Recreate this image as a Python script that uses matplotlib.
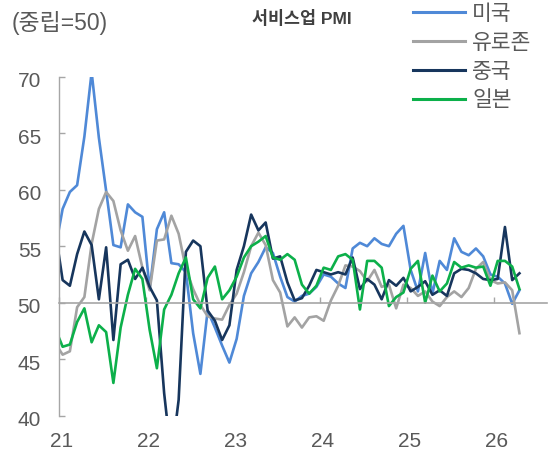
import numpy as np
import matplotlib
matplotlib.use('Agg')
import matplotlib.pyplot as plt
from matplotlib.transforms import ScaledTranslation

plt.rcParams['font.family'] = ['Liberation Sans', 'Noto Sans CJK KR']

series_names = ['미국', '유로존', '중국', '일본']
year_labels = ['21', '22', '23', '24', '25', '26']
year_ticks = [0, 12, 24, 36, 48, 60]          # month offsets from Jan 2021
y_ticks = [40, 45, 50, 55, 60, 65, 70]

# Monthly values, Dec 2020 .. Apr 2026
us = [54.8,
      58.3, 59.8, 60.4, 64.7, 70.4, 64.6, 59.9, 55.1, 54.9, 58.7, 58.0, 57.6,
      51.2, 56.5, 58.0, 53.5, 53.4, 52.7, 47.3, 43.7, 49.3, 47.8, 46.2, 44.7,
      46.8, 50.6, 52.6, 53.6, 54.9, 54.4, 52.3, 50.5, 50.1, 50.6, 50.8, 51.4,
      52.5, 52.3, 51.7, 51.3, 54.8, 55.3, 55.0, 55.7, 55.2, 55.0, 56.1, 56.8,
      52.9, 51.0, 54.4, 50.8, 53.7, 52.9, 55.7, 54.5, 54.2, 54.8, 54.1, 52.5,
      52.3, 51.7, 49.9, 51.1]
eurozone = [46.4,
      45.4, 45.7, 49.6, 50.5, 55.2, 58.3, 59.8, 59.0, 56.4, 54.6, 55.9, 53.1,
      51.1, 55.5, 55.6, 57.7, 56.1, 53.0, 51.2, 49.8, 48.8, 48.6, 48.5, 49.8,
      50.8, 52.7, 55.0, 56.2, 55.1, 52.0, 50.9, 47.9, 48.7, 47.8, 48.7, 48.8,
      48.4, 50.2, 51.5, 53.3, 53.2, 52.8, 51.9, 52.9, 51.4, 51.6, 49.5, 51.6,
      51.3, 50.6, 51.0, 50.1, 49.7, 50.5, 51.0, 50.5, 51.3, 53.0, 53.6, 52.0,
      51.7, 51.8, 51.1, 47.3]
china = [56.3,
      52.0, 51.5, 54.3, 56.3, 55.1, 50.3, 54.9, 46.7, 53.4, 53.8, 52.1, 53.1,
      51.4, 50.2, 42.0, 36.2, 41.4, 54.5, 55.5, 55.0, 49.3, 48.4, 46.7, 48.0,
      52.9, 55.0, 57.8, 56.4, 57.1, 53.9, 54.1, 51.8, 50.2, 50.4, 51.5, 52.9,
      52.7, 52.5, 52.7, 52.5, 54.0, 51.2, 52.1, 51.6, 50.3, 52.0, 51.5, 52.2,
      51.0, 51.4, 51.9, 50.7, 51.1, 50.6, 52.6, 53.0, 52.9, 52.6, 52.1, 52.0,
      52.1, 56.7, 52.0, 52.6]
japan = [47.7,
      46.1, 46.3, 48.3, 49.5, 46.5, 48.0, 47.4, 42.9, 47.8, 50.7, 53.0, 52.1,
      47.6, 44.2, 49.4, 50.7, 52.6, 54.0, 50.3, 49.5, 52.2, 53.2, 50.3, 51.1,
      52.3, 54.0, 55.0, 55.4, 55.9, 54.0, 53.8, 54.3, 53.8, 51.6, 50.8, 51.5,
      53.1, 52.9, 54.1, 54.3, 53.8, 49.4, 53.7, 53.7, 53.1, 49.7, 50.5, 50.9,
      53.0, 53.7, 50.0, 52.4, 51.0, 51.7, 53.6, 53.1, 53.3, 53.1, 53.2, 51.5,
      53.7, 53.7, 53.2, 51.2]

colors = ['#4f89d7', '#a3a3a3', '#17365d', '#0cb04a']
axis_gray = '#a6a6a6'
text_gray = '#595959'

W, H = 550, 453
fig = plt.figure(figsize=(W / 100, H / 100), dpi=100)
ax = fig.add_axes([59 / W, 1 - 415.7 / H, 488 / W, (415.7 - 76.7) / H])

x = np.arange(len(us)) - 0.5   # Dec 2020 sits half a month left of the axis
for vals, name, c in zip([us, eurozone, china, japan], series_names, colors):
    ax.plot(x, vals, color=c, lw=1.9, label=name)

ax.set_xlim(0, 67.3)
ax.set_ylim(40, 70)

for s in ['top', 'right']:
    ax.spines[s].set_visible(False)
ax.spines['left'].set_color(axis_gray)
ax.spines['left'].set_linewidth(1.0)
ax.spines['left'].set_bounds(40, 70)
ax.spines['bottom'].set_position(('data', 50))
ax.spines['bottom'].set_color(axis_gray)
ax.spines['bottom'].set_linewidth(1.2)

ax.set_yticks(y_ticks)
ax.set_yticklabels([str(v) for v in y_ticks])
ax.tick_params(axis='y', direction='in', length=4.3, width=1.0, color=axis_gray,
               labelsize=15, labelcolor=text_gray, pad=13)
shift = ScaledTranslation(0, -3 / 100, fig.dpi_scale_trans)
for lbl in ax.get_yticklabels():
    lbl.set_transform(lbl.get_transform() + shift)

ax.set_xticks(year_ticks)
ax.tick_params(axis='x', direction='in', length=4.3, width=1.0, color=axis_gray,
               labelbottom=False)

for t, lbl in zip(year_ticks, year_labels):
    ax.annotate(lbl, xy=(t, 0), xycoords=('data', 'axes fraction'),
                xytext=(1.5, -26 * 0.72), textcoords='offset points',
                ha='center', va='center', fontsize=15, color=text_gray)

fig.text(12 / W, 1 - 22.6 / H, '(중립=50)', ha='left', va='center',
         fontsize=16.5, color=text_gray)
fig.text(252 / W, 1 - 18 / H, '서비스업 PMI', ha='left', va='center',
         fontsize=12.5, fontweight='bold', color='#404040')

fs = 15.5
leg = ax.legend(loc='upper left', bbox_to_anchor=(413 / W, 1 - 4 / H),
                bbox_transform=fig.transFigure, frameon=False, fontsize=fs,
                handlelength=2.42, handletextpad=0.33, labelspacing=0.36,
                borderpad=0, borderaxespad=0, labelcolor=text_gray)
for h in leg.get_lines():
    h.set_linewidth(2.2)

fig.savefig('out.png', dpi=100)
